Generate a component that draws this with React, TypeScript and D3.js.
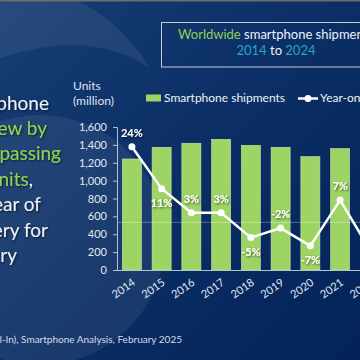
import * as d3 from "d3";
import { FC, useEffect, useRef } from "react";

const YEARS: string[] = [
  "2014", "2015", "2016", "2017", "2018", "2019", "2020", "2021", "2022", "2023", "2024",
];
// units, million
const SHIPMENTS: number[] = [1242, 1373, 1418, 1462, 1395, 1373, 1268, 1358, 1205, 1166, 1223];
// year-on-year growth, %
const YOY_GROWTH: number[] = [23.8, 10.6, 3.0, 3.0, -4.8, -1.8, -7.4, 7.0, -8.6, -3.2, 4.9];
const UNIT_TICKS: number[] = [0, 200, 400, 600, 800, 1000, 1200, 1400, 1600];

const WHITE = "#eef2f7";
const GREEN = "#92d050";
const BAR_GREEN = "#9dd464";
const TEAL = "#25a7c4";
const FONT = "Lato, 'Open Sans', sans-serif";

// headline on the left (cut off by the frame)
const LEFT_LINES: [string, string][][] = [
  [["Smartphone", WHITE]],
  [["shipments ", WHITE], ["grew by", GREEN]],
  [["6%, ", WHITE], ["surpassing", GREEN]],
  [["1.2 billion units", GREEN], [",", WHITE]],
  [["a strong year of", WHITE]],
  [["recovery for", WHITE]],
  [["the industry", WHITE]],
];
const LEFT_ENDS = [49, 47, 61, 33, 41, 48, 17];

const LABEL_BELOW = new Set(["2015", "2018", "2020"]);

const App: FC = () => {
  const ref = useRef<SVGSVGElement | null>(null);

  useEffect(() => {
    if (!ref.current) return;
    const svg = d3.select(ref.current);
    svg.selectAll("*").remove();

    const W = 360;
    const H = 360;
    const left = 117;
    const bottom = 270;
    const top = 127;

    const defs = svg.append("defs");
    const grad = defs
      .append("linearGradient")
      .attr("id", "bg")
      .attr("x1", 0)
      .attr("y1", 0)
      .attr("x2", 1)
      .attr("y2", 1);
    grad.append("stop").attr("offset", 0).attr("stop-color", "#173e74");
    grad.append("stop").attr("offset", 0.45).attr("stop-color", "#0b2f66");
    grad.append("stop").attr("offset", 1).attr("stop-color", "#03235a");

    const shadow = defs.append("filter").attr("id", "shadow").attr("x", "-20%").attr("y", "-20%").attr("width", "140%").attr("height", "140%");
    shadow
      .append("feDropShadow")
      .attr("dx", 1)
      .attr("dy", 1)
      .attr("stdDeviation", 0.8)
      .attr("flood-color", "#000")
      .attr("flood-opacity", 0.65);

    // background
    svg.append("rect").attr("width", W).attr("height", H).attr("fill", "url(#bg)");
    svg
      .append("circle")
      .attr("cx", 40)
      .attr("cy", 240)
      .attr("r", 125)
      .attr("fill", "#fff")
      .attr("opacity", 0.07);
    svg
      .append("path")
      .attr("d", "M0,0 L75,0 Q120,20 150,68 Q90,28 0,58 Z")
      .attr("fill", "#fff")
      .attr("opacity", 0.07);
    svg.append("rect").attr("width", W).attr("height", 1.5).attr("fill", "#6d6d6d");

    // title box
    svg
      .append("rect")
      .attr("x", 161.5)
      .attr("y", 22.5)
      .attr("width", 240)
      .attr("height", 44.5)
      .attr("fill", "none")
      .attr("stroke", "#c5ccd8");
    const t1 = svg
      .append("text")
      .attr("x", 276)
      .attr("y", 39)
      .attr("text-anchor", "middle")
      .attr("font-family", FONT)
      .attr("font-size", 13);
    t1.append("tspan").attr("fill", GREEN).text("Worldwide");
    t1.append("tspan").attr("fill", WHITE).text(" smartphone shipments");
    const t2 = svg
      .append("text")
      .attr("x", 276)
      .attr("y", 55)
      .attr("text-anchor", "middle")
      .attr("font-family", FONT)
      .attr("font-size", 13);
    t2.append("tspan").attr("fill", TEAL).text("2014");
    t2.append("tspan").attr("fill", WHITE).text(" to ");
    t2.append("tspan").attr("fill", TEAL).text("2024");

    // left headline
    LEFT_LINES.forEach((segs, i) => {
      const t = svg
        .append("text")
        .attr("x", LEFT_ENDS[i])
        .attr("y", 109.5 + i * 25.4)
        .attr("text-anchor", "end")
        .attr("font-family", FONT)
        .attr("font-size", 19)
        .attr("filter", "url(#shadow)");
      segs.forEach(([s, c]) => t.append("tspan").attr("fill", c).text(s));
    });

    // footnote
    svg
      .append("text")
      .attr("x", 182)
      .attr("y", 343)
      .attr("text-anchor", "end")
      .attr("font-family", FONT)
      .attr("font-size", 10)
      .attr("fill", "#d5dbe6")
      .text("Source: Canalys estimates (sell-In), Smartphone Analysis, February 2025");

    // scales
    const x = d3
      .scaleBand<string>()
      .domain(YEARS)
      .range([left, left + 29.75 * YEARS.length])
      .paddingInner(0.36)
      .paddingOuter(0.18);
    const y = d3.scaleLinear().domain([0, 1600]).range([bottom, top]);
    const y2 = d3.scaleLinear().domain([-15, 30]).range([bottom, top]);
    const cx = (d: string) => (x(d) ?? 0) + x.bandwidth() / 2;

    // axis title
    svg
      .append("text")
      .attr("x", 73)
      .attr("y", 90)
      .attr("font-family", FONT)
      .attr("font-size", 12)
      .attr("fill", "#dfe5ee")
      .text("Units");
    svg
      .append("text")
      .attr("x", 73)
      .attr("y", 105)
      .attr("font-family", FONT)
      .attr("font-size", 12)
      .attr("fill", "#dfe5ee")
      .text("(million)");

    // legend
    svg.append("rect").attr("x", 146).attr("y", 94.5).attr("width", 15).attr("height", 7).attr("fill", BAR_GREEN);
    svg
      .append("text")
      .attr("x", 164)
      .attr("y", 102)
      .attr("font-family", FONT)
      .attr("font-size", 12)
      .attr("fill", WHITE)
      .text("Smartphone shipments");
    svg
      .append("line")
      .attr("x1", 298)
      .attr("x2", 318)
      .attr("y1", 98.5)
      .attr("y2", 98.5)
      .attr("stroke", "#fff")
      .attr("stroke-width", 2.5);
    svg.append("circle").attr("cx", 308).attr("cy", 98.5).attr("r", 3.5).attr("fill", "#fff");
    svg
      .append("text")
      .attr("x", 320)
      .attr("y", 102)
      .attr("font-family", FONT)
      .attr("font-size", 12)
      .attr("fill", WHITE)
      .text("Year-on-year growth");

    // bars
    svg
      .append("g")
      .selectAll("rect")
      .data(YEARS)
      .join("rect")
      .attr("x", (d) => x(d) ?? 0)
      .attr("y", (_, i) => y(SHIPMENTS[i]))
      .attr("width", x.bandwidth())
      .attr("height", (_, i) => bottom - y(SHIPMENTS[i]))
      .attr("fill", BAR_GREEN)
      .attr("stroke", "#cde6b0")
      .attr("stroke-width", 0.6);

    // zero line of the growth axis
    svg
      .append("line")
      .attr("x1", left)
      .attr("x2", W)
      .attr("y1", y2(0))
      .attr("y2", y2(0))
      .attr("stroke", "#fff")
      .attr("stroke-opacity", 0.3);

    // y axis
    const yAxis = svg
      .append("g")
      .attr("transform", `translate(${left},0)`)
      .call(
        d3
          .axisLeft(y)
          .tickValues(UNIT_TICKS)
          .tickSize(4)
          .tickPadding(6)
          .tickFormat((d) => d3.format(",")(d as number))
      );
    yAxis.select(".domain").attr("stroke", "#b8c0cc");
    yAxis.selectAll(".tick line").attr("stroke", "#b8c0cc");
    yAxis
      .selectAll("text")
      .attr("fill", "#e3e8ef")
      .attr("font-family", FONT)
      .attr("font-size", 11);

    svg
      .append("line")
      .attr("x1", left)
      .attr("x2", W)
      .attr("y1", bottom + 0.5)
      .attr("y2", bottom + 0.5)
      .attr("stroke", "#b8c0cc");

    // x labels
    svg
      .append("g")
      .selectAll("text")
      .data(YEARS)
      .join("text")
      .attr("transform", (d) => `translate(${cx(d) + 2},${bottom + 11}) rotate(-35)`)
      .attr("text-anchor", "end")
      .attr("dy", "0.35em")
      .attr("font-family", FONT)
      .attr("font-size", 11)
      .attr("fill", "#e3e8ef")
      .text((d) => d);

    // growth line
    const line = d3
      .line<number>()
      .x((_, i) => cx(YEARS[i]))
      .y((d) => y2(d));
    svg
      .append("path")
      .attr("d", line(YOY_GROWTH))
      .attr("fill", "none")
      .attr("stroke", "#fff")
      .attr("stroke-width", 2.5)
      .attr("stroke-linejoin", "round");
    svg
      .append("g")
      .selectAll("circle")
      .data(YOY_GROWTH)
      .join("circle")
      .attr("cx", (_, i) => cx(YEARS[i]))
      .attr("cy", (d) => y2(d))
      .attr("r", 3.5)
      .attr("fill", "#fff");

    svg
      .append("g")
      .selectAll("text")
      .data(YOY_GROWTH)
      .join("text")
      .attr("x", (_, i) => cx(YEARS[i]))
      .attr("y", (d, i) => y2(d) + (LABEL_BELOW.has(YEARS[i]) ? 18 : -10))
      .attr("text-anchor", "middle")
      .attr("font-family", FONT)
      .attr("font-size", 11)
      .attr("font-weight", "bold")
      .attr("fill", "#fff")
      .attr("filter", "url(#shadow)")
      .text((d) => `${Math.round(d)}%`);
  }, []);

  return (
    <div style={{ position: "fixed", left: 0, top: 0 }}>
      <svg ref={ref} width={360} height={360} style={{ display: "block" }} />
    </div>
  );
};

export default App;
